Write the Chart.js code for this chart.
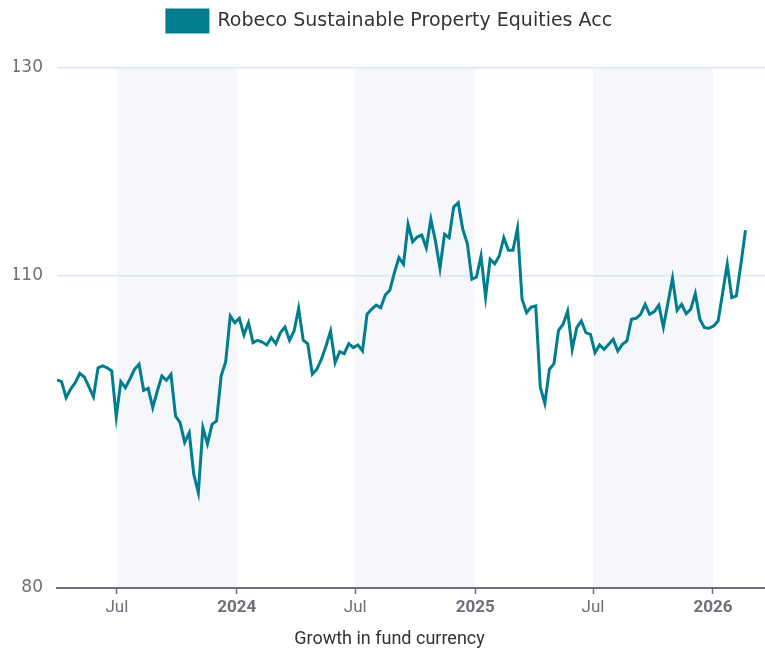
<!DOCTYPE html>
<html>
<head>
<meta charset="utf-8">
<script src="https://cdn.jsdelivr.net/npm/chart.js@4/dist/chart.umd.min.js"></script>
<style>
  html, body { margin: 0; padding: 0; background: #fff; }
  #wrap { width: 765px; height: 650px; }
</style>
</head>
<body>
<div id="wrap"><canvas id="growth"></canvas></div>
<script>
// Données hebdomadaires (valeur base 100)
const fund_name = 'Robeco Sustainable Property Equities Acc';
const first_week = '2023-03-31';
const fund_values = [
  100.0, 99.84, 98.3, 99.13, 99.74, 100.64, 100.29, 99.33, 98.37, 101.18,
  101.35, 101.18, 100.87, 96.44, 99.84, 99.26, 100.1, 101.03, 101.51, 99.01,
  99.2, 97.34, 98.94, 100.38, 99.97, 100.54, 96.54, 95.9, 94.0, 94.93,
  90.93, 89.16, 95.41, 93.87, 95.74, 96.06, 100.38, 101.76, 106.15, 105.51,
  105.93, 104.33, 105.51, 103.59, 103.82, 103.65, 103.37, 104.07, 103.49, 104.55,
  105.1, 103.82, 104.71, 106.89, 103.82, 103.49, 100.55, 101.03, 102.0, 103.27,
  104.71, 101.66, 102.72, 102.53, 103.49, 103.11, 103.37, 102.79, 106.32, 106.8,
  107.21, 106.95, 108.17, 108.63, 110.32, 111.76, 111.13, 114.97, 113.3, 113.75,
  113.94, 112.72, 115.45, 113.37, 110.74, 114.01, 113.68, 116.63, 117.05, 114.49,
  113.11, 109.68, 109.9, 111.92, 107.98, 111.61, 111.18, 111.92, 113.68, 112.47,
  112.47, 114.59, 107.76, 106.47, 107.02, 107.12, 99.3, 97.75, 101.03, 101.57,
  104.78, 105.36, 106.63, 102.95, 105.03, 105.67, 104.55, 104.39, 102.63, 103.37,
  102.95, 103.43, 103.91, 102.79, 103.43, 103.75, 105.84, 105.93, 106.32, 107.28,
  106.32, 106.57, 107.2, 105.07, 107.43, 109.78, 106.7, 107.28, 106.38, 106.8,
  108.3, 105.84, 105.03, 104.97, 105.19, 105.67, 108.4, 111.13, 107.91, 108.08,
  111.13, 114.4
];
const tick_dates = ['2023-07-01', '2024-01-01', '2024-07-01', '2025-01-01', '2025-07-01', '2026-01-01'];
const tick_labels = ['Jul', '2024', 'Jul', '2025', 'Jul', '2026'];
const y_ticks = [80, 110, 130];
const band_starts = ['2023-07-01', '2024-07-01', '2025-07-01'];
const band_ends = ['2024-01-01', '2025-01-01', '2026-01-01'];
const x_start = '2023-03-31';
const x_end = '2026-03-22';

const DAY = 86400000;
var points = [];
var t0 = Date.parse(first_week);
for (var i = 0; i < fund_values.length; i++) {
  points.push({x: t0 + i * 7 * DAY, y: fund_values[i]});
}

// Bandes grisées (semestres)
const bandsPlugin = {
  id: 'bands',
  beforeDraw: function(chart) {
    var ctx = chart.ctx, xs = chart.scales.x, area = chart.chartArea;
    ctx.save();
    ctx.fillStyle = '#f5f7fb';
    for (var j = 0; j < band_starts.length; j++) {
      var a = xs.getPixelForValue(Date.parse(band_starts[j]));
      var b = xs.getPixelForValue(Date.parse(band_ends[j]));
      ctx.fillRect(a, area.top, b - a, area.bottom - area.top);
    }
    ctx.restore();
  }
};

// Espace supplémentaire sous la légende
const legendGapPlugin = {
  id: 'legendGap',
  beforeLayout: function(chart) {
    var lg = chart.legend;
    if (lg && !lg._gapPatched) {
      var fit = lg.fit;
      lg.fit = function() {
        fit.call(this);
        this.height += 26;
      };
      lg._gapPatched = true;
    }
  }
};

const config_growth = {
  type: 'line',
  data: {
    datasets: [{
      label: fund_name,
      data: points,
      borderColor: '#007d8f',
      backgroundColor: '#007d8f',
      borderWidth: 3,
      pointRadius: 0,
      tension: 0
    }]
  },
  options: {
    responsive: true,
    maintainAspectRatio: false,
    animation: false,
    layout: {padding: {top: 0, right: 0, bottom: 0, left: 14}},
    plugins: {
      legend: {
        position: 'top',
        labels: {
          boxWidth: 41,
          boxHeight: 22,
          padding: 10,
          color: '#333',
          font: {family: 'DejaVu Sans', size: 19}
        }
      },
      title: {
        display: true,
        position: 'bottom',
        text: 'Growth in fund currency',
        color: '#333',
        font: {family: 'Roboto', size: 18, weight: 'normal'},
        padding: {top: 6, bottom: 0}
      },
      tooltip: {enabled: false}
    },
    scales: {
      x: {
        type: 'linear',
        min: Date.parse(x_start),
        max: Date.parse(x_end),
        afterBuildTicks: function(scale) {
          scale.ticks = tick_dates.map(function(d) { return {value: Date.parse(d)}; });
        },
        grid: {drawOnChartArea: false, drawTicks: true, tickLength: 6, tickColor: '#6e7079', tickWidth: 1.5},
        border: {display: true, color: '#6e7079', width: 2},
        ticks: {
          autoSkip: false,
          maxRotation: 0,
          padding: 4,
          color: '#6e7079',
          font: function(c) {
            var lab = tick_labels[c.index];
            return {family: 'Roboto', size: 17, weight: (lab && lab !== 'Jul') ? 'bold' : 'normal'};
          },
          callback: function(value, index) { return tick_labels[index]; }
        }
      },
      y: {
        min: 80,
        max: 130,
        afterBuildTicks: function(scale) {
          scale.ticks = y_ticks.map(function(v) { return {value: v}; });
        },
        afterFit: function(scale) { scale.width = 43; },
        grid: {
          drawTicks: false,
          color: function(c) { return c.tick && c.tick.value === 80 ? 'rgba(0,0,0,0)' : '#e0e6f1'; },
          lineWidth: 1.5
        },
        border: {display: false},
        ticks: {
          padding: 14,
          color: '#6e7079',
          font: {family: 'DejaVu Sans', size: 17}
        }
      }
    }
  },
  plugins: [bandsPlugin, legendGapPlugin]
};

const growth_Chart = new Chart(document.getElementById('growth'), config_growth);
</script>
</body>
</html>
